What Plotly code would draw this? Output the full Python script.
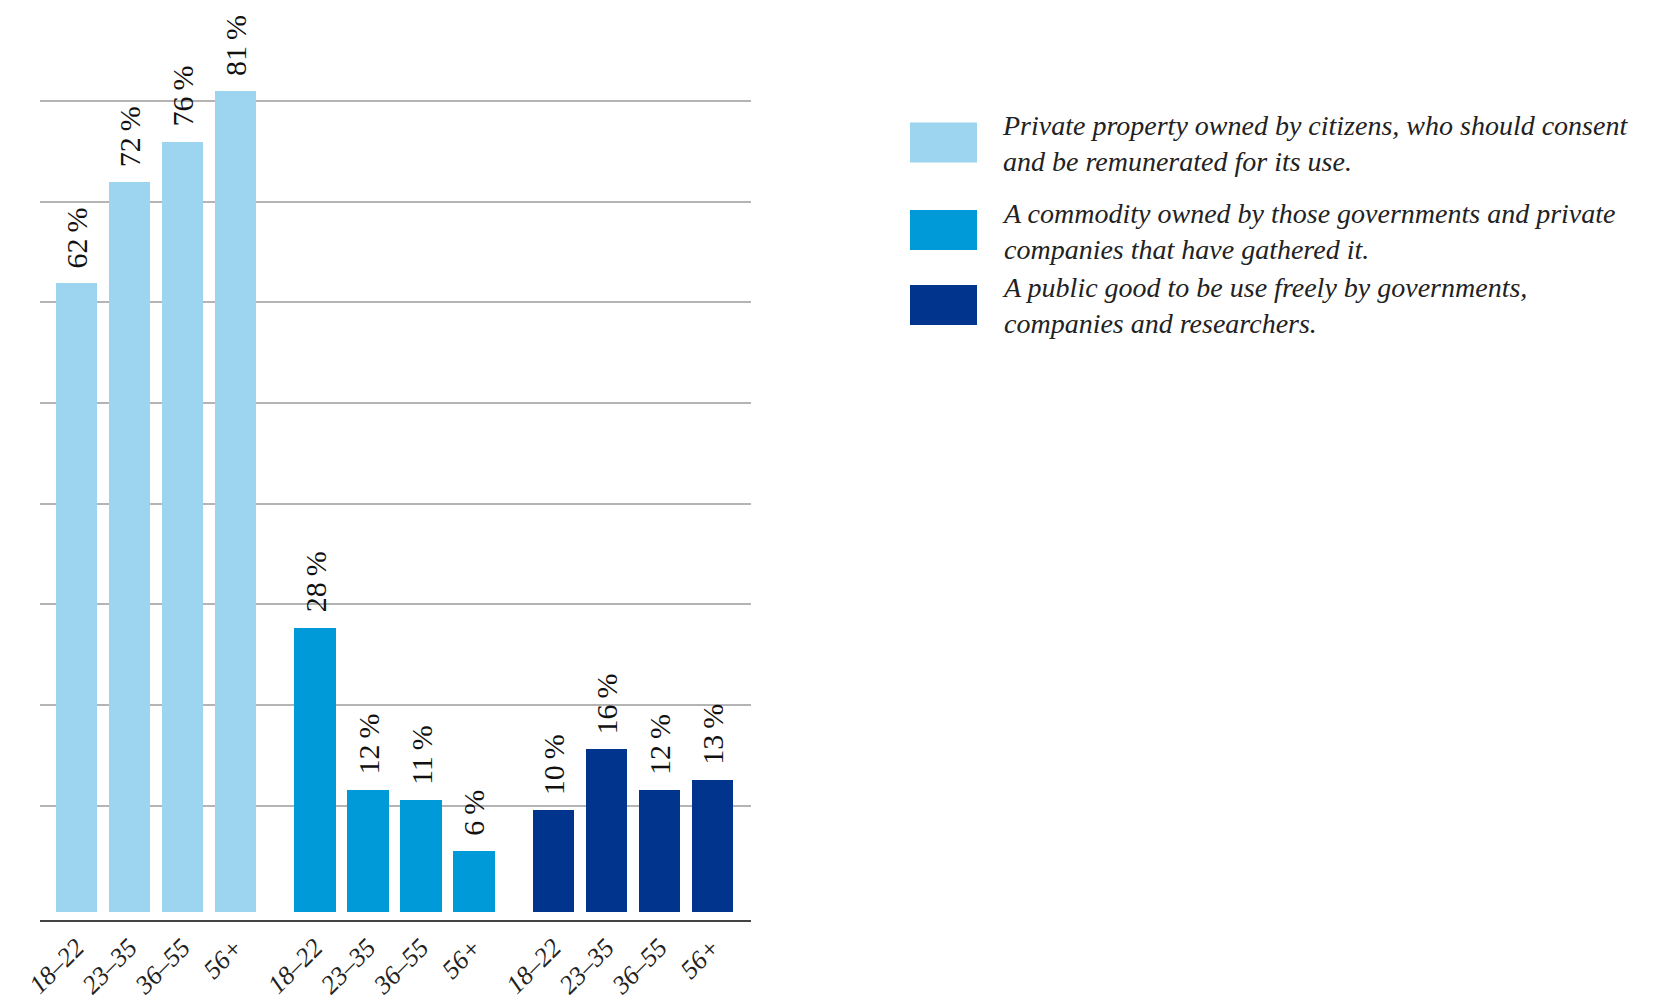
import plotly.graph_objects as go

# ---------------- data ----------------
age_groups = ["18–22", "23–35", "36–55", "56+"]
series_names = [
    "Private property owned by citizens, who should consent<br>and be remunerated for its use.",
    "A commodity owned by those governments and private<br>companies that have gathered it.",
    "A public good to be use freely by governments,<br>companies and researchers.",
]
private_property = [62, 72, 76, 81]
commodity = [28, 12, 11, 6]
public_good = [10, 16, 12, 13]

series_values = [private_property, commodity, public_good]
colors = ["#9dd4f0", "#009ad9", "#00348d"]

# ---------------- layout constants ----------------
W, H = 1677, 998
PL, PR = 40, 751          # plot area left / right (px)
PT, PB = 10, 920          # plot area top / bottom (px)
GROUP_STEP = 4.5
BAR_W = 0.774

def paper_x(px):
    return (px - PL) / (PR - PL)

def paper_y(py):
    return (PB - py) / (PB - PT)

fig = go.Figure()
tickvals, ticktext = [], []
annotations = []
for g, (vals, col) in enumerate(zip(series_values, colors)):
    xs = [g * GROUP_STEP + i for i in range(len(age_groups))]
    tickvals += xs
    ticktext += age_groups
    fig.add_trace(go.Bar(
        x=xs, y=vals, width=BAR_W,
        marker=dict(color=col, line=dict(width=0)),
        showlegend=False, hoverinfo="skip",
    ))
    for x, v in zip(xs, vals):
        annotations.append(dict(
            x=x, y=v, xref="x", yref="y",
            text=f"{v}\u2009%", textangle=-90, showarrow=False,
            xanchor="center", yanchor="bottom", yshift=13,
            font=dict(family="Liberation Serif", size=30, color="#111111"),
        ))

# custom legend
sw_x0, sw_x1 = 910, 977
sw_centers = [142.5, 230, 305]
sw_h = 40
shapes = []
for name, col, cy in zip(series_names, colors, sw_centers):
    shapes.append(dict(
        type="rect", xref="paper", yref="paper",
        x0=paper_x(sw_x0), x1=paper_x(sw_x1),
        y0=paper_y(cy + sw_h / 2), y1=paper_y(cy - sw_h / 2),
        fillcolor=col, line=dict(width=0), layer="above",
    ))
    annotations.append(dict(
        x=paper_x(1000), y=paper_y(cy + 1), xref="paper", yref="paper",
        text=name, showarrow=False, xanchor="left", yanchor="middle", align="left",
        font=dict(family="Liberation Serif", size=28, color="#222222", style="italic"),
    ))

px_per_unit = 10.13
y_lo = -(PB - 911.5) / px_per_unit
y_hi = y_lo + (PB - PT) / px_per_unit

fig.update_layout(
    width=W, height=H,
    margin=dict(l=PL, r=W - PR, t=PT, b=H - PB, autoexpand=False),
    paper_bgcolor="white", plot_bgcolor="white",
    bargap=0, barmode="overlay",
    annotations=annotations, shapes=shapes,
    xaxis=dict(
        range=[-(76.5 - PL) / 53.0, (PR - 76.5) / 53.0],
        tickmode="array", tickvals=tickvals, ticktext=ticktext,
        tickangle=-45, showgrid=False, zeroline=False,
        showline=True, linecolor="#444444", linewidth=2,
        ticks="", automargin=False,
        tickfont=dict(family="Liberation Serif", size=26, color="#222222", style="italic"),
    ),
    yaxis=dict(
        range=[y_lo, y_hi], showticklabels=False, zeroline=False,
        showgrid=True, gridcolor="#b4b4b4", gridwidth=1.5,
        showline=False, automargin=False,
        tickmode="array", tickvals=[0.5 + 9.94 * k for k in range(1, 9)],
    ),
)

fig.write_html("out.html")
